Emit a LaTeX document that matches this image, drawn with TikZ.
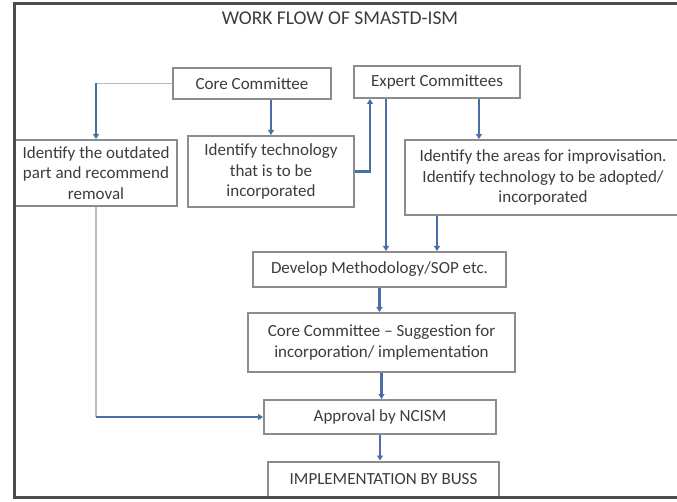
\documentclass[tikz,border=0pt]{standalone}
\usepackage{fontspec}
\setmainfont{Carlito}
\usetikzlibrary{arrows.meta}

\definecolor{boxgray}{HTML}{8C8C8C}
\definecolor{flowblue}{HTML}{4A6EA8}
\definecolor{txtgray}{HTML}{3C3C3C}
\definecolor{thingray}{HTML}{B4BCC8}

\begin{document}
\begin{tikzpicture}[
    x = 1pt,
    y = -1pt,
    >={Triangle[length=5pt,width=6pt]},
    box/.style = {
      draw = boxgray,
      line width = 2pt,
      align = center,
      inner sep = 0pt,
      text = txtgray,
      font = \fontsize{17}{20.5}\selectfont
    },
    flow/.style = {->, draw = flowblue, line width = 2.2pt},
    feed/.style = {draw = thingray, line width = 1.4pt},
    frame/.style = {draw = black!70, line width = 3pt}
  ]
  \useasboundingbox (0,0) rectangle (677,502);
  \clip (0,0) rectangle (677,502);

  \node[text = txtgray, font = \fontsize{19.5}{23}\selectfont] (title) at (340,18) {WORK FLOW OF SMASTD-ISM};

  \node[box, minimum width = 158pt, minimum height = 31pt] (core) at (252,83.5) {Core Committee};
  \node[box, minimum width = 166pt, minimum height = 32pt] (expert) at (437,82) {Expert Committees};

  \node[box, minimum width = 162pt, minimum height = 66pt] (outdated) at (96,173)
    {Identify the outdated\\part and recommend\\removal};
  \node[box, minimum width = 166pt, minimum height = 71pt] (techn) at (271,171.5)
    {Identify technology\\that is to be\\incorporated};
  \node[box, minimum width = 276pt, minimum height = 75pt] (areas) at (543,177.5)
    {Identify the areas for improvisation.\\Identify technology to be adopted/\\incorporated};

  \node[box, minimum width = 253pt, minimum height = 35pt] (develop) at (379.5,269.5) {Develop Methodology/SOP etc.};
  \node[box, minimum width = 267pt, minimum height = 59pt] (suggest) at (381.5,342.5)
    {Core Committee -- Suggestion for\\incorporation/ implementation};
  \node[box, minimum width = 232pt, minimum height = 34pt] (approval) at (380,417) {Approval by NCISM};
  \node[box, minimum width = 231pt, minimum height = 36pt] (impl) at (383.5,479.5) {IMPLEMENTATION BY BUSS};

  % core committee branches
  \coordinate (c1) at (outdated.north |- core.west);
  \draw[feed] (core.west) -- (c1);
  \draw[flow] (c1) -- (outdated.north);
  \draw[flow] (core.south -| techn.north) -- (techn.north);

  % expert committee links
  \coordinate (e0) at ([xshift=-67pt]expert.south);
  \coordinate (e1) at ([xshift=-51pt]expert.south);
  \coordinate (e2) at ([xshift=42pt]expert.south);
  \draw[flow] (techn.east) -| (e0);
  \draw[flow] (e1) -- (e1 |- develop.north);
  \draw[flow] (e2) -- (e2 |- areas.north);
  \draw[flow] (expert.south |- areas.south) -- (expert.south |- develop.north);

  % main column
  \draw[flow] (develop.south) -- (develop.south |- suggest.north);
  \draw[flow] (suggest.south) -- (suggest.south |- approval.north);
  \draw[flow] (approval.south) -- (approval.south |- impl.north);

  % removal goes straight to approval
  \coordinate (c2) at (outdated.south |- approval.west);
  \draw[feed] (outdated.south) -- (c2);
  \draw[flow] (c2) -- (approval.west);

  \draw[frame] (690,4) -| (14,497) -- (690,497);
\end{tikzpicture}
\end{document}
